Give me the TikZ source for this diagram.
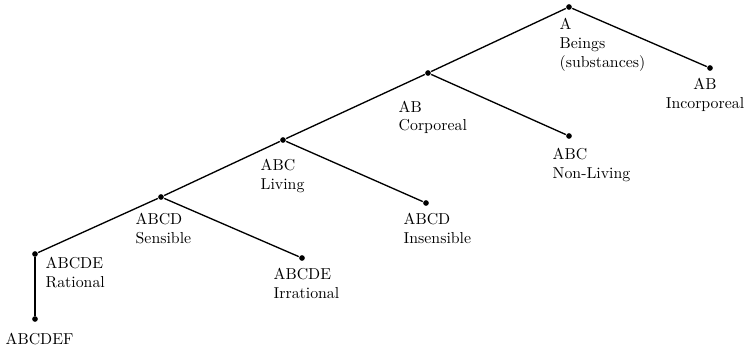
\documentclass[tikz,border=0pt]{standalone}

\begin{document}
\begin{tikzpicture}[x=0.6pt,y=-0.6pt,thick,
  dot/.style={circle,fill,inner sep=0pt,minimum size=3.4pt},
  lbl/.style={align=left,inner sep=0pt,anchor=north west,font=\fontsize{9.5}{11.4}\selectfont}]
  \useasboundingbox (0,0) rectangle (745,347);

  \node[dot] (be) at (569,7)   {};
  \node[dot] (co) at (428,73)  {};
  \node[dot] (ic) at (710,68)  {};
  \node[dot] (li) at (283,140) {};
  \node[dot] (nl) at (569,136) {};
  \node[dot] (se) at (161,197) {};
  \node[dot] (is) at (426,203) {};
  \node[dot] (ra) at (35,254)  {};
  \node[dot] (ir) at (302,258) {};
  \node[dot] (ef) at (35,319)  {};

  \node[lbl] (be-t) at (be) [shift={(-10,11)}] {A\\Beings\\(substances)};
  \node[lbl,anchor=north,align=center] (ic-t) at (ic) [shift={(-5,10)}] {AB\\Incorporeal};
  \node[lbl] (co-t) at (co) [shift={(-30,27)}] {AB\\Corporeal};
  \node[lbl] (nl-t) at (nl) [shift={(-17,11)}] {ABC\\Non-Living};
  \node[lbl] (li-t) at (li) [shift={(-23,18)}] {ABC\\Living};
  \node[lbl] (is-t) at (is) [shift={(-23,9)}]  {ABCD\\Insensible};
  \node[lbl] (se-t) at (se) [shift={(-26,15)}] {ABCD\\Sensible};
  \node[lbl] (ir-t) at (ir) [shift={(-29,9)}]  {ABCDE\\Irrational};
  \node[lbl] (ra-t) at (ra) [shift={(10,2)}]   {ABCDE\\Rational};
  \node[lbl] (ef-t) at (ef) [shift={(-30,13)}] {ABCDEF};

  \path (be) edge (co)
             edge (ic)
        (co) edge (li)
             edge (nl)
        (li) edge (se)
             edge (is)
        (se) edge (ra)
             edge (ir)
        (ra) edge (ef);
\end{tikzpicture}
\end{document}
